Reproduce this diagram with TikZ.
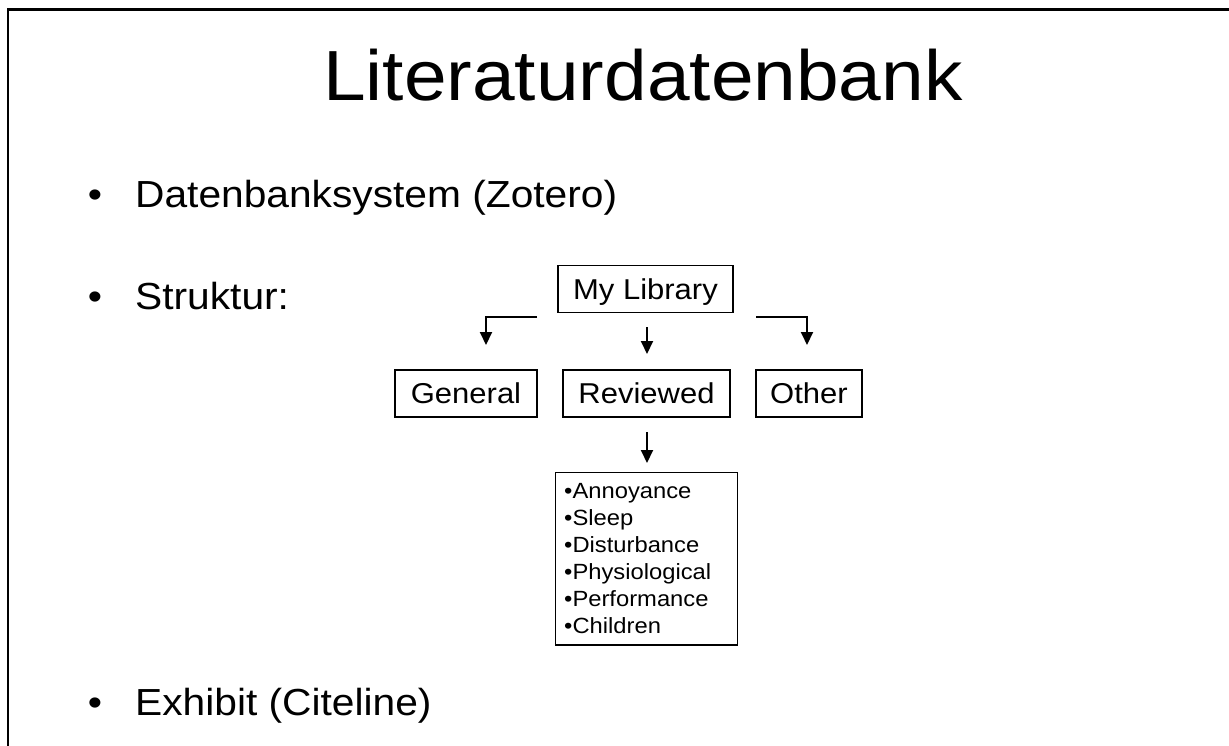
\documentclass[tikz,border=0pt]{standalone}
\usepackage{fontspec}
\setmainfont[FakeStretch=1.08]{Liberation Sans}
\usetikzlibrary{arrows.meta}
\begin{document}
\begin{tikzpicture}[x=1pt,y=-1pt,
  frame/.style={line width=2.5pt},
  slidetitle/.style={font=\fontsize{71}{85}\selectfont, inner sep=0pt, anchor=base west},
  item/.style={font=\fontsize{37.7}{45}\selectfont, inner sep=0pt, anchor=base west},
  itemdot/.style={font=\fontsize{37.7}{45}\selectfont, inner sep=0pt, anchor=base},
  catbox/.style={draw, line width=1.4pt, inner sep=0pt, minimum height=47pt,
    text height=20.5pt, text depth=0pt, font=\fontsize{28.7}{34}\selectfont},
  listbox/.style={draw, line width=1.4pt, align=left, text width=165pt,
    inner xsep=8.5pt, inner ysep=11pt, font=\fontsize{22}{27}\selectfont},
  link/.style={line width=2pt, -{Triangle[length=13pt,width=12pt]}}
]
\useasboundingbox (0,0) rectangle (1229,746);
\fill[white] (0,0) rectangle (1229,746);
% slide frame (left and top edges only)
\draw[frame] (8,746) -- (8,9.5) -- (1229,9.5);

% title
\node[slidetitle] (title) at (323,101) {Literaturdatenbank};

% bullet list
\node[itemdot] (d1) at (95,208) {•};
\node[item] (i1) at (135,208) {Datenbanksystem (Zotero)};
\node[itemdot] (d2) at (95,309) {•};
\node[item] (i2) at (135,309) {Struktur:};
\node[itemdot] (d3) at (95,715) {•};
\node[item] (i3) at (135,715) {Exhibit (Citeline)};

% library structure
\node[catbox, minimum width=175pt] (mylib) at (645.5,289) {My Library};
\node[catbox, minimum width=142pt] (general) at (466,393.5) {General};
\node[catbox, minimum width=167pt] (reviewed) at (646.5,393.5) {Reviewed};
\node[catbox, minimum width=106pt] (other) at (809,393.5) {Other};
\node[listbox, anchor=north west] (topics) at (555,472)
  {•Annoyance\\•Sleep\\•Disturbance\\•Physiological\\•Performance\\•Children};

% arrows
\coordinate (lstart) at (537,317);
\coordinate (lend) at (486,345);
\coordinate (mstart) at (647,327);
\coordinate (mend) at (647,354);
\coordinate (rstart) at (756,317);
\coordinate (rend) at (807,345);
\coordinate (bstart) at (647,432);
\coordinate (bend) at (647,463);
\draw[link] (lstart) -- (lend |- lstart) -- (lend);
\draw[link] (mstart) -- (mend);
\draw[link] (rstart) -- (rend |- rstart) -- (rend);
\draw[link] (bstart) -- (bend);
\end{tikzpicture}
\end{document}
